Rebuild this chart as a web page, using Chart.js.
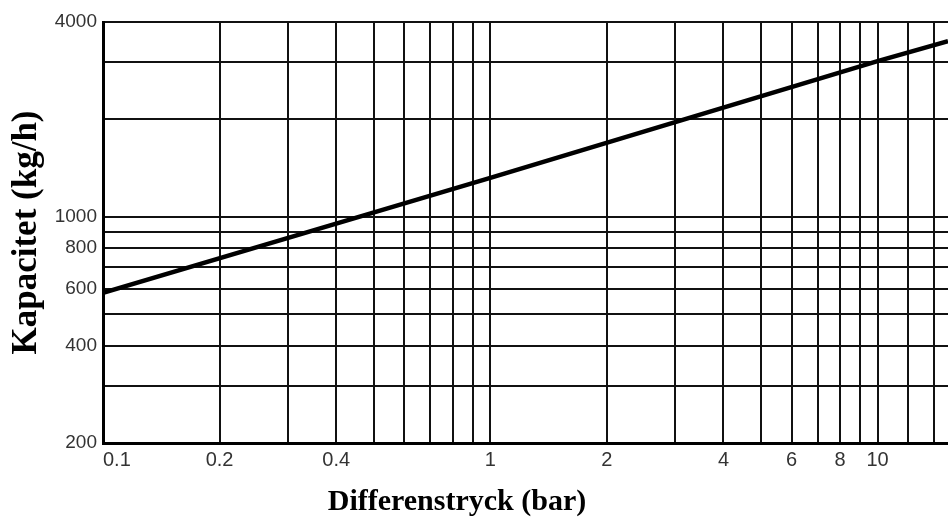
<!DOCTYPE html>
<html>
<head>
<meta charset="utf-8">
<script src="https://cdn.jsdelivr.net/npm/chart.js@4.4.1/dist/chart.umd.min.js"></script>
<style>
  html, body { margin: 0; padding: 0; background: #fff; }
  #wrap { width: 948px; height: 519px; position: relative; }
</style>
</head>
<body>
<div id="wrap"><canvas id="chart"></canvas></div>
<script>
// Differenstryck (bar) vs Kapacitet (kg/h), log-log
const pressure = [0.1, 1, 10, 15.2];
const capacity = [582, 1320, 3030, 3490];

// rutnät och etiketter
const xGrid = [0.1, 0.2, 0.3, 0.4, 0.5, 0.6, 0.7, 0.8, 0.9, 1, 2, 3, 4, 5, 6, 7, 8, 9, 10, 12, 14];
const xLabels = [0.1, 0.2, 0.4, 1, 2, 4, 6, 8, 10];
const yGrid = [200, 300, 400, 500, 600, 700, 800, 900, 1000, 2000, 3000, 4000];
const yLabels = [200, 400, 600, 800, 1000, 4000];

const xTitle = 'Differenstryck (bar)';
const yTitle = 'Kapacitet (kg/h)';

// x-titeln sitter till vänster om mitten i originalet
const xTitlePlugin = {
    id: 'xTitle',
    afterDraw(chart) {
        const ctx = chart.ctx;
        ctx.save();
        ctx.font = 'bold 30px "Liberation Serif"';
        ctx.fillStyle = '#000';
        ctx.textAlign = 'center';
        ctx.textBaseline = 'alphabetic';
        ctx.fillText(xTitle, 457, 510);
        ctx.restore();
    }
};

new Chart(document.getElementById('chart'), {
    type: 'line',
    data: {
        datasets: [{
            data: pressure.map((p, i) => ({ x: p, y: capacity[i] })),
            borderColor: '#000',
            borderWidth: 4.5,
            pointRadius: 0,
            tension: 0,
            fill: false
        }]
    },
    options: {
        responsive: true,
        maintainAspectRatio: false,
        animation: false,
        layout: { padding: { top: 22, right: 0, left: 0, bottom: 0 } },
        plugins: {
            legend: { display: false },
            tooltip: { enabled: false }
        },
        scales: {
            x: {
                type: 'logarithmic',
                min: 0.1,
                max: 15.2,
                afterBuildTicks: scale => { scale.ticks = xGrid.map(v => ({ value: v })); },
                afterFit: scale => { scale.height = 76; },
                ticks: {
                    autoSkip: false,
                    maxRotation: 0,
                    align: 'inner',
                    padding: 5,
                    color: '#333',
                    font: { family: 'Liberation Sans', size: 20 },
                    callback: v => xLabels.includes(v) ? String(v) : ''
                },
                grid: { color: '#111', lineWidth: 2, drawTicks: false },
                border: { color: '#000', width: 3 }
            },
            y: {
                type: 'logarithmic',
                min: 200,
                max: 4000,
                afterBuildTicks: scale => { scale.ticks = yGrid.map(v => ({ value: v })); },
                afterFit: scale => { scale.width = 103; },
                ticks: {
                    autoSkip: false,
                    padding: 6,
                    color: '#333',
                    font: { family: 'Liberation Sans', size: 19 },
                    callback: v => yLabels.includes(v) ? String(v) : ''
                },
                grid: { color: '#111', lineWidth: 2, drawTicks: false },
                border: { color: '#000', width: 3 },
                title: {
                    display: true,
                    text: yTitle,
                    color: '#000',
                    font: { family: 'Liberation Serif', size: 35, weight: 'bold' },
                    padding: { top: 6, bottom: 0 }
                }
            }
        }
    },
    plugins: [xTitlePlugin]
});
</script>
</body>
</html>
